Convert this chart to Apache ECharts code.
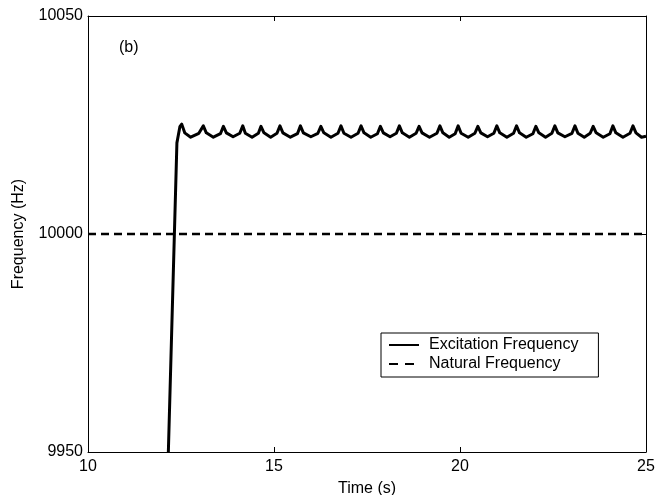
<!DOCTYPE html>
<html><head><meta charset="utf-8">
<script src="https://cdn.jsdelivr.net/npm/echarts@6/dist/echarts.min.js"></script>
<style>html,body{margin:0;padding:0;background:#fff}#c{width:665px;height:495px}</style>
</head><body><div id="c"></div>
<script>
const xTickValues = [10, 15, 20, 25];
const yTickValues = [9950, 10000, 10050];
const seriesNames = ['Excitation Frequency', 'Natural Frequency'];
const panelLabel = '(b)';
const excitationTime = [12.16, 12.39, 12.47, 12.52, 12.60, 12.76, 12.98, 13.10, 13.18, 13.37, 13.56, 13.64, 13.72, 13.90, 14.08, 14.16, 14.23, 14.41, 14.58, 14.65, 14.73, 14.91, 15.08, 15.16, 15.24, 15.44, 15.63, 15.71, 15.79, 15.99, 16.18, 16.26, 16.34, 16.53, 16.72, 16.80, 16.88, 17.07, 17.26, 17.34, 17.42, 17.60, 17.78, 17.86, 17.94, 18.12, 18.29, 18.37, 18.45, 18.64, 18.82, 18.90, 18.98, 19.18, 19.38, 19.46, 19.54, 19.71, 19.87, 19.95, 20.03, 20.22, 20.40, 20.48, 20.56, 20.74, 20.91, 20.99, 21.07, 21.26, 21.44, 21.52, 21.60, 21.78, 21.96, 22.04, 22.12, 22.30, 22.47, 22.55, 22.63, 22.82, 23.01, 23.09, 23.17, 23.34, 23.50, 23.58, 23.66, 23.85, 24.03, 24.11, 24.19, 24.38, 24.57, 24.65, 24.73, 24.88, 25.00];
const excitationFreq = [9950, 10020.9, 10024.6, 10025.2, 10023.2, 10022.2, 10023.1, 10024.8, 10023.2, 10022.2, 10023.0, 10024.7, 10023.2, 10022.3, 10023.1, 10024.8, 10023.1, 10022.2, 10023.1, 10024.7, 10023.2, 10022.2, 10023.1, 10024.8, 10023.2, 10022.2, 10023.0, 10024.8, 10023.2, 10022.3, 10023.1, 10024.7, 10023.2, 10022.2, 10023.1, 10024.8, 10023.1, 10022.2, 10023.1, 10024.8, 10023.2, 10022.2, 10023.0, 10024.7, 10023.2, 10022.3, 10023.1, 10024.8, 10023.2, 10022.2, 10023.1, 10024.7, 10023.2, 10022.2, 10023.1, 10024.8, 10023.2, 10022.2, 10023.0, 10024.8, 10023.1, 10022.2, 10023.1, 10024.7, 10023.2, 10022.3, 10023.1, 10024.8, 10023.2, 10022.2, 10023.1, 10024.8, 10023.2, 10022.2, 10023.0, 10024.7, 10023.2, 10022.2, 10023.1, 10024.8, 10023.2, 10022.3, 10023.1, 10024.8, 10023.1, 10022.2, 10023.1, 10024.7, 10023.2, 10022.2, 10023.0, 10024.8, 10023.2, 10022.2, 10023.1, 10024.8, 10023.2, 10022.2, 10022.4];
const naturalTime = [10, 25];
const naturalFreq = [10000, 10000];

const FONT = 'Liberation Sans, Arial, Helvetica, sans-serif';
const FS = 16;
const chart = echarts.init(document.getElementById('c'), null, {renderer: 'canvas'});
const axisBase = {
  type: 'value', scale: false,
  axisLine: {show: true, onZero: false, lineStyle: {color: '#000', width: 1}},
  axisTick: {show: true, inside: true, length: 5, lineStyle: {color: '#000'}},
  splitLine: {show: false}
};
chart.setOption({
  animation: false,
  backgroundColor: '#fff',
  textStyle: {fontFamily: FONT},
  title: {text: panelLabel, left: 119, top: 40, padding: 0, textStyle: {fontFamily: FONT, fontSize: FS, fontWeight: 'normal', color: '#000'}},
  grid: {left: 88, right: 19, top: 16, bottom: 43, containLabel: false, outerBoundsMode: 'none'},
  legend: {
    orient: 'vertical', left: 381, top: 333,
    data: [
      {name: seriesNames[0]},
      {name: seriesNames[1], lineStyle: {type: [9, 7]}}
    ],
    itemWidth: 30, itemHeight: 14, itemGap: 3,
    padding: [4, 20, 5, 7],
    borderColor: '#000', borderWidth: 1,
    backgroundColor: '#fff',
    itemStyle: {opacity: 0},
    textStyle: {fontFamily: FONT, fontSize: FS, color: '#000', padding: [0, 0, 0, 5]}
  },
  xAxis: [
    Object.assign({}, axisBase, {
      position: 'bottom', min: xTickValues[0], max: xTickValues[xTickValues.length - 1], interval: 5,
      name: 'Time (s)', nameLocation: 'middle', nameGap: 29,
      nameTextStyle: {fontFamily: FONT, fontSize: FS, color: '#000'},
      axisLabel: {color: '#000', fontSize: FS, fontFamily: FONT, margin: 7}
    }),
    Object.assign({}, axisBase, {
      position: 'top', min: xTickValues[0], max: xTickValues[xTickValues.length - 1], interval: 5,
      axisLabel: {show: false}
    })
  ],
  yAxis: [
    Object.assign({}, axisBase, {
      position: 'left', min: yTickValues[0], max: yTickValues[yTickValues.length - 1], interval: 50,
      name: 'Frequency (Hz)', nameLocation: 'middle', nameGap: 61,
      nameTextStyle: {fontFamily: FONT, fontSize: FS, color: '#000'},
      axisLabel: {color: '#000', fontSize: FS, fontFamily: FONT, margin: 5, formatter: v => String(v)}
    }),
    Object.assign({}, axisBase, {
      position: 'right', min: yTickValues[0], max: yTickValues[yTickValues.length - 1], interval: 50,
      axisLabel: {show: false}
    })
  ],
  series: [
    {
      name: seriesNames[0], type: 'line', xAxisIndex: 0, yAxisIndex: 0,
      data: excitationTime.map((t, i) => [t, excitationFreq[i]]),
      showSymbol: false, symbol: 'none', clip: true,
      lineStyle: {color: '#000', width: 3, join: 'round'},
      itemStyle: {color: '#000'}
    },
    {
      name: seriesNames[1], type: 'line', xAxisIndex: 0, yAxisIndex: 0,
      data: naturalTime.map((t, i) => [t, naturalFreq[i]]),
      showSymbol: false, symbol: 'none',
      lineStyle: {color: '#000', width: 2.5, type: [8, 5]},
      itemStyle: {color: '#000'}
    }
  ]
});
</script>
</body></html>
